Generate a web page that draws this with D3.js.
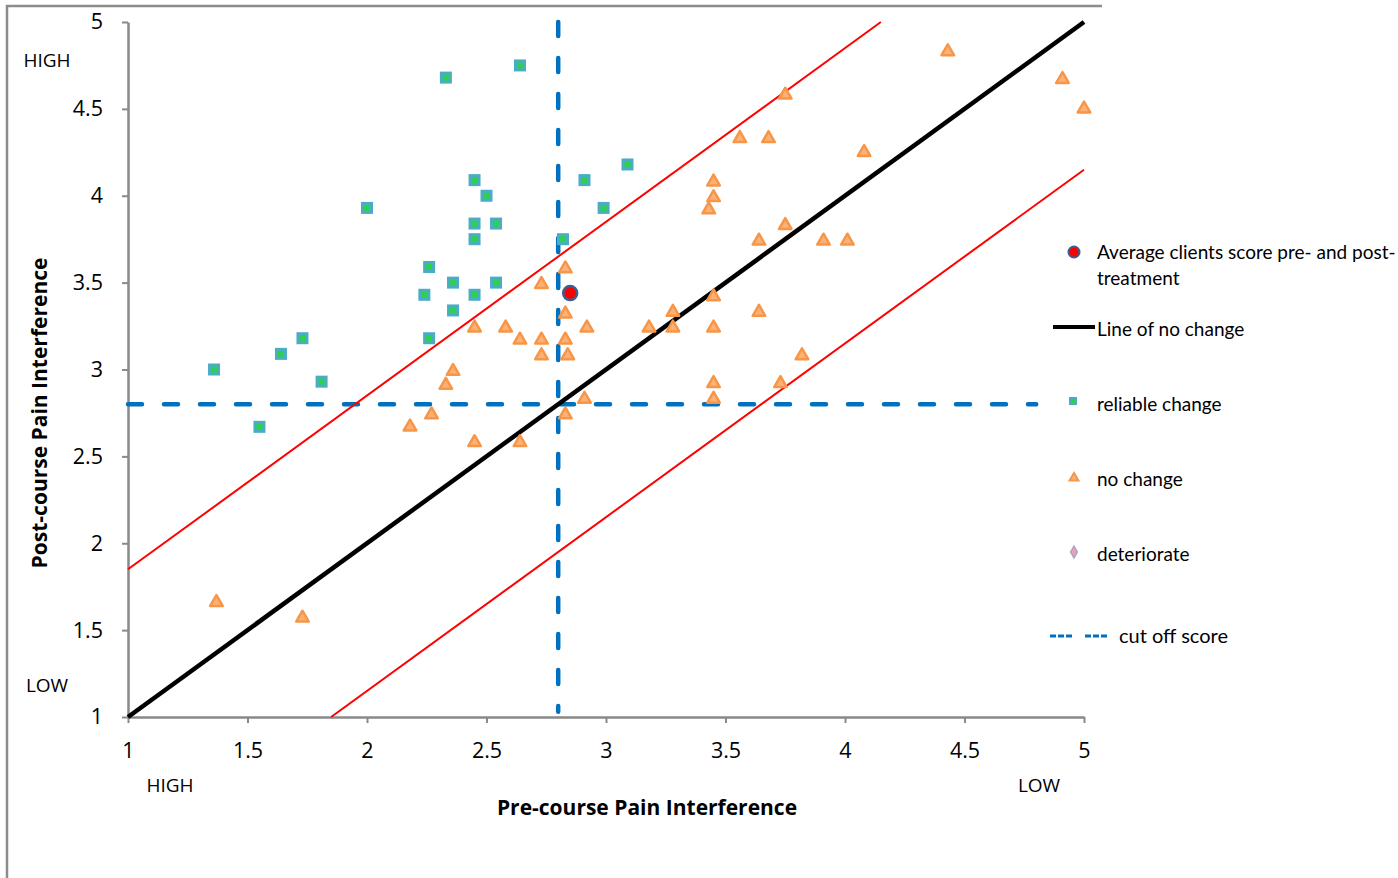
<!DOCTYPE html>
<html>
<head>
<meta charset="utf-8">
<script src="https://cdn.jsdelivr.net/npm/d3@7"></script>
<style>
  body { margin: 0; background: #fff; }
  svg text { fill: #000; }
</style>
</head>
<body>
<svg id="chart" width="1398" height="878"></svg>
<script>
// reliable change clients [pre, post]
const reliableChange = [
  [1.36, 3.00], [1.55, 2.67], [1.64, 3.09], [1.73, 3.18], [1.81, 2.93],
  [2.00, 3.93], [2.24, 3.43], [2.26, 3.59], [2.26, 3.18], [2.36, 3.50],
  [2.36, 3.34], [2.33, 4.68], [2.45, 4.09], [2.50, 4.00], [2.45, 3.84],
  [2.45, 3.75], [2.54, 3.84], [2.54, 3.50], [2.45, 3.43], [2.64, 4.75],
  [2.82, 3.75], [2.91, 4.09], [2.99, 3.93], [3.09, 4.18]
];

// no change clients [pre, post]
const noChange = [
  [4.43, 4.83], [4.91, 4.67], [5.00, 4.50], [3.75, 4.58], [3.56, 4.33],
  [3.68, 4.33], [4.08, 4.25], [3.45, 4.08], [3.45, 3.99], [3.43, 3.92],
  [3.75, 3.83], [3.64, 3.74], [3.91, 3.74], [4.01, 3.74], [2.83, 3.58],
  [2.73, 3.49], [3.45, 3.42], [2.83, 3.32], [2.45, 3.24], [2.58, 3.24],
  [2.92, 3.24], [3.18, 3.24], [3.28, 3.24], [3.45, 3.24], [3.28, 3.33],
  [3.64, 3.33], [2.64, 3.17], [2.73, 3.17], [2.83, 3.17], [2.73, 3.08],
  [2.84, 3.08], [3.82, 3.08], [2.36, 2.99], [2.33, 2.91], [3.45, 2.92],
  [3.73, 2.92], [3.45, 2.83], [2.91, 2.83], [2.27, 2.74], [2.18, 2.67],
  [2.83, 2.74], [2.45, 2.58], [2.64, 2.58], [1.37, 1.66], [1.73, 1.57]
];

// deteriorated clients (none)
const deteriorate = [];

const averageScore = [[2.85, 3.44]];

// reference lines
const noChangeLine = [[1, 1], [5, 5]];
const upperRci = [[1, 1.85], [4.15, 5]];
const lowerRci = [[1.85, 1], [5, 4.15]];
const cutOff = 2.8;
const cutOffH = [[1, cutOff], [4.8, cutOff]];
const cutOffV = [[cutOff, 5], [cutOff, 1.03]];

const xTicks = [1, 1.5, 2, 2.5, 3, 3.5, 4, 4.5, 5];
const yTicks = [1, 1.5, 2, 2.5, 3, 3.5, 4, 4.5, 5];

const legendItems = ['Average clients score pre- and post-', 'Line of no change', 'reliable  change', 'no change', 'deteriorate', 'cut off score'];

const svg = d3.select('#chart');

// outer frame (cut off at right and bottom)
svg.append('path')
  .attr('d', 'M7,878 L7,6 L1102,6')
  .attr('fill', 'none')
  .attr('stroke', '#8c8c8c')
  .attr('stroke-width', 2.5);

const x = d3.scaleLinear().domain([1, 5]).range([128, 1084]);
const y = d3.scaleLinear().domain([1, 5]).range([717, 22]);

const axisColor = '#898989';
const tickFont = '"Open Sans", sans-serif';

const xAxis = svg.append('g')
  .attr('transform', 'translate(0,717)')
  .call(d3.axisBottom(x).tickValues(xTicks).tickFormat(d3.format('')).tickSize(6).tickSizeOuter(0).tickPadding(20));
const yAxis = svg.append('g')
  .attr('transform', 'translate(128,0)')
  .call(d3.axisLeft(y).tickValues(yTicks).tickFormat(d3.format('')).tickSize(6).tickSizeOuter(0).tickPadding(19));

[xAxis, yAxis].forEach(g => {
  g.select('.domain').attr('stroke', axisColor).attr('stroke-width', 2.5);
  g.selectAll('.tick line').attr('stroke', axisColor).attr('stroke-width', 2);
  g.selectAll('.tick text').attr('font-family', tickFont).attr('font-size', 21.5).attr('fill', '#000');
});

const line = d3.line().x(d => x(d[0])).y(d => y(d[1]));

// cut off score lines
[cutOffH, cutOffV].forEach(seg => {
  svg.append('path')
    .attr('d', line(seg))
    .attr('fill', 'none')
    .attr('stroke', '#0070c0')
    .attr('stroke-width', 4.5)
    .attr('stroke-linecap', 'round')
    .attr('stroke-dasharray', '14,22');
});

// reliable change index lines
[upperRci, lowerRci].forEach(seg => {
  svg.append('path')
    .attr('d', line(seg))
    .attr('fill', 'none')
    .attr('stroke', '#ff0000')
    .attr('stroke-width', 2);
});

// line of no change
svg.append('path')
  .attr('d', line(noChangeLine))
  .attr('fill', 'none')
  .attr('stroke', '#000')
  .attr('stroke-width', 4.5);

// markers
const tri = d3.symbol().type(d3.symbolTriangle).size(68);

svg.append('g').selectAll('path')
  .data(noChange)
  .enter().append('path')
  .attr('d', tri)
  .attr('transform', d => `translate(${x(d[0])},${y(d[1])})`)
  .attr('fill', '#fbb27a')
  .attr('stroke', '#f79646')
  .attr('stroke-width', 2.5)
  .attr('stroke-linejoin', 'round');

svg.append('g').selectAll('rect')
  .data(reliableChange)
  .enter().append('rect')
  .attr('x', d => x(d[0]) - 4.5)
  .attr('y', d => y(d[1]) - 4.5)
  .attr('width', 9)
  .attr('height', 9)
  .attr('fill', '#2fd050')
  .attr('stroke', '#4bacc6')
  .attr('stroke-width', 3);

svg.append('g').selectAll('circle')
  .data(averageScore)
  .enter().append('circle')
  .attr('cx', d => x(d[0]))
  .attr('cy', d => y(d[1]))
  .attr('r', 7)
  .attr('fill', '#ff0000')
  .attr('stroke', '#3d5f91')
  .attr('stroke-width', 2.5);

// corner labels
const labelFont = '"Open Sans", sans-serif';
const corner = [
  { t: 'HIGH', x: 47, y: 60 },
  { t: 'LOW', x: 47, y: 685 },
  { t: 'HIGH', x: 170, y: 785 },
  { t: 'LOW', x: 1039, y: 785 }
];
svg.append('g').selectAll('text')
  .data(corner)
  .enter().append('text')
  .attr('x', d => d.x)
  .attr('y', d => d.y)
  .attr('dy', '0.35em')
  .attr('text-anchor', 'middle')
  .attr('font-family', labelFont)
  .attr('font-size', 19)
  .text(d => d.t);

// axis titles
const titleFont = '"Open Sans", sans-serif';
svg.append('text')
  .attr('x', 647)
  .attr('y', 808)
  .attr('dy', '0.35em')
  .attr('text-anchor', 'middle')
  .attr('font-family', titleFont)
  .attr('font-weight', 'bold')
  .attr('font-size', 21)
  .text('Pre-course Pain Interference');

svg.append('text')
  .attr('transform', 'translate(40,413) rotate(-90)')
  .attr('dy', '0.35em')
  .attr('text-anchor', 'middle')
  .attr('font-family', titleFont)
  .attr('font-weight', 'bold')
  .attr('font-size', 21)
  .text('Post-course Pain Interference');

// legend
const legend = svg.append('g').attr('font-family', 'Lato, sans-serif').attr('font-size', 19);
const ly = [252, 329, 404, 479, 554, 636];

legend.append('circle')
  .attr('cx', 1074).attr('cy', ly[0]).attr('r', 5.5)
  .attr('fill', '#ff0000').attr('stroke', '#3d5f91').attr('stroke-width', 2);
legend.append('text').attr('x', 1097).attr('y', ly[0]).attr('dy', '0.35em').text(legendItems[0]);
legend.append('text').attr('x', 1097).attr('y', 278).attr('dy', '0.35em').text('treatment');

legend.append('line')
  .attr('x1', 1053).attr('x2', 1095).attr('y1', ly[1] - 2).attr('y2', ly[1] - 2)
  .attr('stroke', '#000').attr('stroke-width', 4);
legend.append('text').attr('x', 1097).attr('y', ly[1]).attr('dy', '0.35em').text(legendItems[1]);

legend.append('rect')
  .attr('x', 1070).attr('y', ly[2] - 6).attr('width', 6).attr('height', 6)
  .attr('fill', '#2fd050').attr('stroke', '#4bacc6').attr('stroke-width', 2);
legend.append('text').attr('x', 1097).attr('y', ly[2]).attr('dy', '0.35em').text(legendItems[2]);

legend.append('path')
  .attr('d', d3.symbol().type(d3.symbolTriangle).size(34))
  .attr('transform', `translate(1074,${ly[3] - 1})`)
  .attr('fill', '#fbb27a').attr('stroke', '#f79646').attr('stroke-width', 2);
legend.append('text').attr('x', 1097).attr('y', ly[3]).attr('dy', '0.35em').text(legendItems[3]);

legend.append('path')
  .attr('d', d3.symbol().type(d3.symbolDiamond).size(40))
  .attr('transform', `translate(1074,${ly[4] - 2})`)
  .attr('fill', '#e8a3b0').attr('stroke', '#b3a2c7').attr('stroke-width', 1.5);
legend.append('text').attr('x', 1097).attr('y', ly[4]).attr('dy', '0.35em').text(legendItems[4]);

[[1050, 1073], [1085, 1108]].forEach(s => {
  legend.append('line')
    .attr('x1', s[0]).attr('x2', s[1]).attr('y1', ly[5]).attr('y2', ly[5])
    .attr('stroke', '#0070c0').attr('stroke-width', 3)
    .attr('stroke-dasharray', '6,2');
});
legend.append('text').attr('x', 1119).attr('y', ly[5]).attr('dy', '0.35em').attr('font-size', 20).text(legendItems[5]);
</script>
</body>
</html>
